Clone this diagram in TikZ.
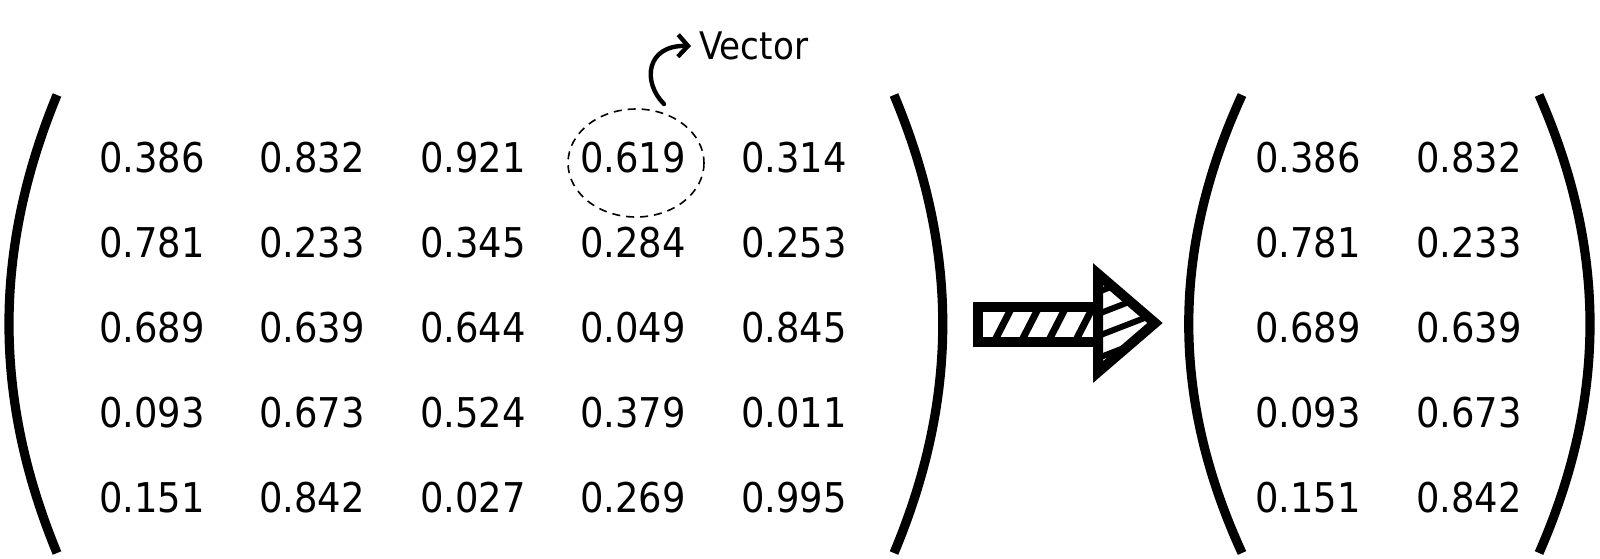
\documentclass[tikz,border=0pt]{standalone}
\usepackage{fontspec}
\setmainfont{DejaVu Sans Condensed}
\usetikzlibrary{arrows.meta}
\begin{document}
\begin{tikzpicture}[x=0.5pt,y=-0.5pt,
  num/.style={inner sep=0pt, font=\fontsize{20.5}{24}\selectfont},
  paren/.style={line width=4.6pt},
  bold/.style={line width=5pt, line join=miter},
  stripe/.style={line width=3.5pt}]
\useasboundingbox[fill=white] (0,0) rectangle (1600,558);
% left matrix
\node[num] (a11) at (152,158) {0.386};
\node[num] (a12) at (312,158) {0.832};
\node[num] (a13) at (473,158) {0.921};
\node[num] (a14) at (633,158) {0.619};
\node[num] (a15) at (794,158) {0.314};
\node[num] (a21) at (152,243) {0.781};
\node[num] (a22) at (312,243) {0.233};
\node[num] (a23) at (473,243) {0.345};
\node[num] (a24) at (633,243) {0.284};
\node[num] (a25) at (794,243) {0.253};
\node[num] (a31) at (152,328) {0.689};
\node[num] (a32) at (312,328) {0.639};
\node[num] (a33) at (473,328) {0.644};
\node[num] (a34) at (633,328) {0.049};
\node[num] (a35) at (794,328) {0.845};
\node[num] (a41) at (152,413) {0.093};
\node[num] (a42) at (312,413) {0.673};
\node[num] (a43) at (473,413) {0.524};
\node[num] (a44) at (633,413) {0.379};
\node[num] (a45) at (794,413) {0.011};
\node[num] (a51) at (152,498) {0.151};
\node[num] (a52) at (312,498) {0.842};
\node[num] (a53) at (473,498) {0.027};
\node[num] (a54) at (633,498) {0.269};
\node[num] (a55) at (794,498) {0.995};
% right matrix
\node[num] (b11) at (1308,158) {0.386};
\node[num] (b12) at (1469,158) {0.832};
\node[num] (b21) at (1308,243) {0.781};
\node[num] (b22) at (1469,243) {0.233};
\node[num] (b31) at (1308,328) {0.689};
\node[num] (b32) at (1469,328) {0.639};
\node[num] (b41) at (1308,413) {0.093};
\node[num] (b42) at (1469,413) {0.673};
\node[num] (b51) at (1308,498) {0.151};
\node[num] (b52) at (1469,498) {0.842};
% parentheses
\draw[paren] (57,95) .. controls (-7,250) and (-7,398) .. (57,553);
\draw[paren] (894,95) .. controls (959,250) and (959,398) .. (894,553);
\draw[paren] (1242,95) .. controls (1171,250) and (1171,398) .. (1242,553);
\draw[paren] (1539,95) .. controls (1607,250) and (1607,398) .. (1539,553);
% vector annotation
\draw[dashed, line width=0.8pt, dash pattern=on 4pt off 3pt] (636,163) ellipse [x radius=68, y radius=54];
\node[anchor=west, inner sep=0pt, font=\fontsize{19}{22}\selectfont] (vec) at (699,46) {Vector};
\coordinate (vs) at (664,104);
\draw[line width=2.2pt, line cap=round, -{Straight Barb[length=5pt,width=11pt]}] (vs) .. controls (642,82) and (646,45) .. ([xshift=-4pt]vec.west);
% big hatched arrow
\begin{scope}
  \clip (983,312) rectangle (1093,337);
  \foreach \x in {1003,1030,1057,1084} \draw[stripe] (\x-9,342) -- (\x+9,307);
\end{scope}
\begin{scope}
  \clip (1098,274) -- (1155,323) -- (1098,372) -- cycle;
  \foreach \y in {292,314,336,358} \draw[line width=3pt] (1098,\y) -- (1160,\y-24);
\end{scope}
\draw[bold] (978,307) rectangle (1098,342);
\draw[bold] (1098,274) -- (1155,323) -- (1098,372) -- cycle;
\end{tikzpicture}
\end{document}
